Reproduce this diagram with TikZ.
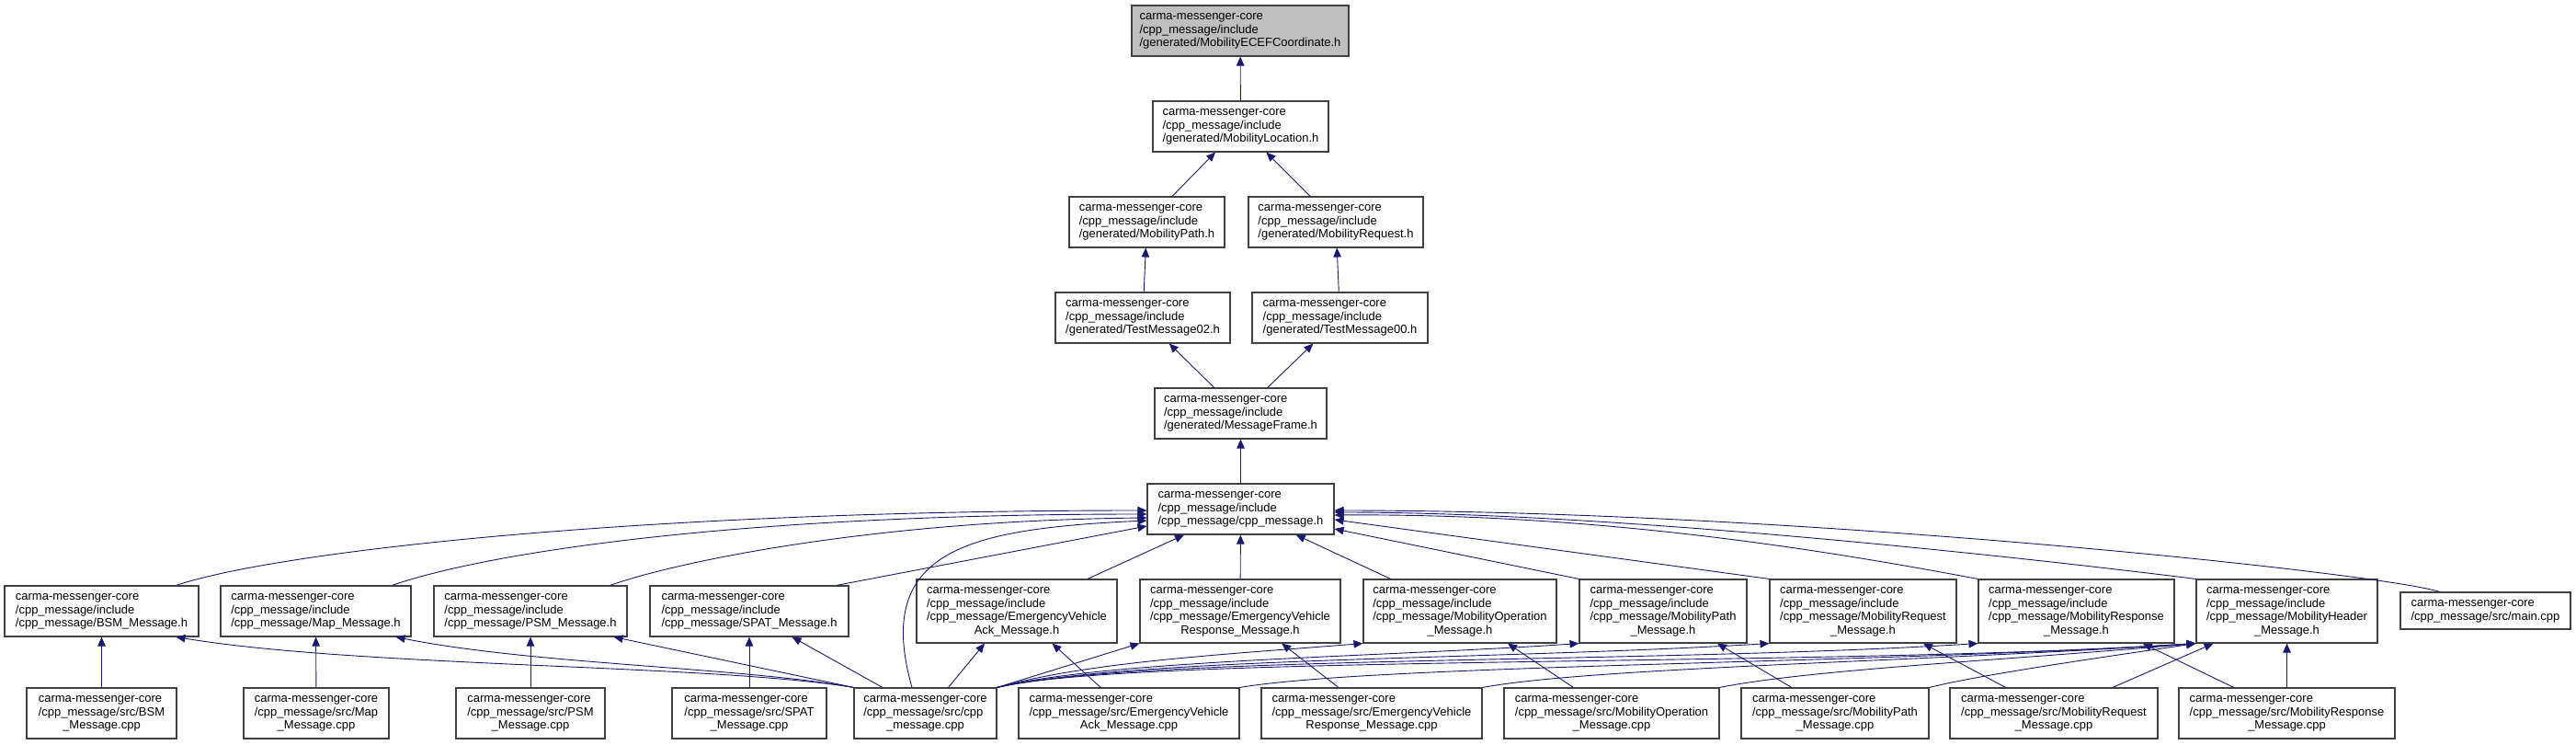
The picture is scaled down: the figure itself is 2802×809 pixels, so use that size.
\documentclass[tikz,border=0pt]{standalone}
\usepackage{fontspec}
\setmainfont{Liberation Sans}
\usepackage{tikz}
\usetikzlibrary{arrows.meta}
\definecolor{edgeblue}{RGB}{25,25,112}
\definecolor{boxline}{RGB}{64,64,64}
\newcommand{\flbl}[2]{\begin{tabular}{@{}l@{}}#1\\\multicolumn{1}{@{}c@{}}{#2}\end{tabular}}

\begin{document}
\begin{tikzpicture}[
    x=1pt, y=-1pt,
    >={Triangle[length=10pt,width=8.5pt]},
    file/.style={draw=boxline, fill=white, line width=1.1pt, inner sep=2pt,
                 font=\fontsize{13}{14.5}\selectfont, minimum height=55pt},
    tall/.style={file, minimum height=69pt},
    focus/.style={file, fill=black!25},
    dep/.style={->, draw=edgeblue, line width=0.9pt},
  ]
    \useasboundingbox (0,0) rectangle (2802,809);
    % chain above cpp_message.h
    \node[focus, minimum width=236pt] (ecef) at (1349,33.5) {\flbl{carma-messenger-core\\/cpp\_message/include}{/generated/MobilityECEFCoordinate.h}};
    \node[file, minimum width=191pt] (loc) at (1349.5,137.5) {\flbl{carma-messenger-core\\/cpp\_message/include}{/generated/MobilityLocation.h}};
    \node[file, minimum width=169pt] (mpath) at (1247.5,241.5) {\flbl{carma-messenger-core\\/cpp\_message/include}{/generated/MobilityPath.h}};
    \node[file, minimum width=190pt] (mreq) at (1453,241.5) {\flbl{carma-messenger-core\\/cpp\_message/include}{/generated/MobilityRequest.h}};
    \node[file, minimum width=190pt] (tm02) at (1243,345.5) {\flbl{carma-messenger-core\\/cpp\_message/include}{/generated/TestMessage02.h}};
    \node[file, minimum width=191pt] (tm00) at (1457.5,345.5) {\flbl{carma-messenger-core\\/cpp\_message/include}{/generated/TestMessage00.h}};
    \node[file, minimum width=187pt] (mframe) at (1349.5,449.5) {\flbl{carma-messenger-core\\/cpp\_message/include}{/generated/MessageFrame.h}};
    \node[file, minimum width=203pt] (cpph) at (1349.5,553.5) {\flbl{carma-messenger-core\\/cpp\_message/include}{/cpp\_message/cpp\_message.h}};
    % headers
    \node[file, minimum width=211pt] (bsmh) at (110.5,664.5) {\flbl{carma-messenger-core\\/cpp\_message/include}{/cpp\_message/BSM\_Message.h}};
    \node[file, minimum width=207pt] (maph) at (343.5,664.5) {\flbl{carma-messenger-core\\/cpp\_message/include}{/cpp\_message/Map\_Message.h}};
    \node[file, minimum width=210pt] (psmh) at (577,664.5) {\flbl{carma-messenger-core\\/cpp\_message/include}{/cpp\_message/PSM\_Message.h}};
    \node[file, minimum width=216pt] (spath) at (815,664.5) {\flbl{carma-messenger-core\\/cpp\_message/include}{/cpp\_message/SPAT\_Message.h}};
    \node[tall, minimum width=218pt] (evackh) at (1106,664.5) {\flbl{carma-messenger-core\\/cpp\_message/include\\/cpp\_message/EmergencyVehicle}{Ack\_Message.h}};
    \node[tall, minimum width=218pt] (evresh) at (1349,664.5) {\flbl{carma-messenger-core\\/cpp\_message/include\\/cpp\_message/EmergencyVehicle}{Response\_Message.h}};
    \node[tall, minimum width=210pt] (mopeh) at (1588,664.5) {\flbl{carma-messenger-core\\/cpp\_message/include\\/cpp\_message/MobilityOperation}{\_Message.h}};
    \node[tall, minimum width=182pt] (mpathh) at (1809,664.5) {\flbl{carma-messenger-core\\/cpp\_message/include\\/cpp\_message/MobilityPath}{\_Message.h}};
    \node[tall, minimum width=203pt] (mreqh) at (2026.5,664.5) {\flbl{carma-messenger-core\\/cpp\_message/include\\/cpp\_message/MobilityRequest}{\_Message.h}};
    \node[tall, minimum width=213pt] (mresh) at (2258.5,664.5) {\flbl{carma-messenger-core\\/cpp\_message/include\\/cpp\_message/MobilityResponse}{\_Message.h}};
    \node[tall, minimum width=197pt] (mhdrh) at (2487.5,664.5) {\flbl{carma-messenger-core\\/cpp\_message/include\\/cpp\_message/MobilityHeader}{\_Message.h}};
    \node[file, minimum width=185pt, minimum height=40pt] (mainc) at (2703.5,664) {\flbl{carma-messenger-core}{/cpp\_message/src/main.cpp}};
    % sources
    \node[file, minimum width=163pt] (bsmc) at (110.5,775.5) {\flbl{carma-messenger-core\\/cpp\_message/src/BSM}{\_Message.cpp}};
    \node[file, minimum width=158pt] (mapc) at (344,775.5) {\flbl{carma-messenger-core\\/cpp\_message/src/Map}{\_Message.cpp}};
    \node[file, minimum width=162pt] (psmc) at (577,775.5) {\flbl{carma-messenger-core\\/cpp\_message/src/PSM}{\_Message.cpp}};
    \node[file, minimum width=168pt] (spatc) at (815,775.5) {\flbl{carma-messenger-core\\/cpp\_message/src/SPAT}{\_Message.cpp}};
    \node[file, minimum width=155pt] (cppc) at (1006.5,775.5) {\flbl{carma-messenger-core\\/cpp\_message/src/cpp}{\_message.cpp}};
    \node[file, minimum width=240pt] (evackc) at (1228,775.5) {\flbl{carma-messenger-core\\/cpp\_message/src/EmergencyVehicle}{Ack\_Message.cpp}};
    \node[file, minimum width=240pt] (evresc) at (1492,775.5) {\flbl{carma-messenger-core\\/cpp\_message/src/EmergencyVehicle}{Response\_Message.cpp}};
    \node[file, minimum width=234pt] (mopec) at (1753,775.5) {\flbl{carma-messenger-core\\/cpp\_message/src/MobilityOperation}{\_Message.cpp}};
    \node[file, minimum width=204pt] (mpathc) at (1996,775.5) {\flbl{carma-messenger-core\\/cpp\_message/src/MobilityPath}{\_Message.cpp}};
    \node[file, minimum width=226pt] (mreqc) at (2234,775.5) {\flbl{carma-messenger-core\\/cpp\_message/src/MobilityRequest}{\_Message.cpp}};
    \node[file, minimum width=235pt] (mresc) at (2487.5,775.5) {\flbl{carma-messenger-core\\/cpp\_message/src/MobilityResponse}{\_Message.cpp}};

    \draw[dep] (loc) -- (ecef);
    \draw[dep] (mpath) -- (loc);
    \draw[dep] (mreq) -- (loc);
    \draw[dep] (tm02) -- (mpath);
    \draw[dep] (tm00) -- (mreq);
    \draw[dep] (mframe) -- (tm02);
    \draw[dep] (mframe) -- (tm00);
    \draw[dep] (cpph) -- (mframe);

    \draw[dep] ([xshift=-25pt]bsmh.north east) .. controls +(110,-37) and +(-550,0) .. ([yshift=-1.5pt]cpph.west);
    \draw[dep] ([xshift=-21pt]maph.north east) .. controls +(100,-35) and +(-450,0) .. ([yshift=-5.5pt]cpph.west);
    \draw[dep] ([xshift=-19pt]psmh.north east) .. controls +(70,-25) and +(-300,3) .. ([yshift=-9.5pt]cpph.west);
    \draw[dep] ([xshift=-14pt]spath.north east) -- ([yshift=-18.5pt]cpph.west);
    \draw[dep] ([xshift=-14.5pt]cppc.north) .. controls +(-42,-148) and +(-198,9) .. ([yshift=-12.5pt]cpph.west);
    \draw[dep] (evackh) -- (cpph);
    \draw[dep] (evresh) -- (cpph);
    \draw[dep] (mopeh) -- (cpph);
    \draw[dep] (mpathh.north west) -- ([yshift=-21.5pt]cpph.east);
    \draw[dep] (mreqh.north west) -- ([yshift=-11.5pt]cpph.east);
    \draw[dep] (mresh.north west) .. controls +(-150,-28) and +(300,-2) .. ([yshift=-6.5pt]cpph.east);
    \draw[dep] (mhdrh.north west) .. controls +(-200,-25) and +(300,0) .. ([yshift=-3.5pt]cpph.east);
    \draw[dep] ([xshift=-50pt]mainc.north) .. controls +(-60,-20) and +(500,0) .. ([yshift=-1.5pt]cpph.east);

    \draw[dep] (bsmc) -- (bsmh);
    \draw[dep] (mapc) -- (maph);
    \draw[dep] (psmc) -- (psmh);
    \draw[dep] (spatc) -- (spath);
    \draw[dep] (cppc.north west) .. controls +(-150,-25) and +(200,33) .. ([xshift=-25pt]bsmh.south east);
    \draw[dep] (cppc.north west) .. controls +(-120,-22) and +(150,30) .. ([xshift=-17pt]maph.south east);
    \draw[dep] (cppc.north west) -- ([xshift=-15pt]psmh.south east);
    \draw[dep] ([xshift=-46.5pt]cppc.north) -- ([xshift=-62pt]spath.south east);
    \draw[dep] ([xshift=25pt]cppc.north) -- ([xshift=-35pt]evackh.south);
    \draw[dep] (cppc.north east) -- (evresh.south west);
    \draw[dep] (cppc.north east) .. controls +(100,-28) and +(-150,12) .. (mopeh.south west);
    \draw[dep] (cppc.north east) .. controls +(120,-30) and +(-220,15) .. (mpathh.south west);
    \draw[dep] (cppc.north east) .. controls +(150,-33) and +(-300,18) .. (mreqh.south west);
    \draw[dep] (cppc.north east) .. controls +(150,-35) and +(-350,22) .. (mresh.south west);
    \draw[dep] (cppc.north east) .. controls +(150,-36) and +(-400,26) .. (mhdrh.south west);
    \draw[dep] (evackc) -- (evackh);
    \draw[dep] (evackc.north east) .. controls +(150,-25) and +(-350,22) .. (mhdrh.south west);
    \draw[dep] (evresc) -- (evresh);
    \draw[dep] (evresc.north east) .. controls +(120,-22) and +(-300,20) .. (mhdrh.south west);
    \draw[dep] (mopec) -- (mopeh);
    \draw[dep] (mopec.north east) .. controls +(100,-20) and +(-200,18) .. (mhdrh.south west);
    \draw[dep] (mpathc) -- (mpathh);
    \draw[dep] (mpathc.north east) .. controls +(60,-15) and +(-80,12) .. (mhdrh.south west);
    \draw[dep] (mreqc) -- (mreqh);
    \draw[dep] (mreqc) -- (mhdrh);
    \draw[dep] (mresc) -- (mresh);
    \draw[dep] (mresc) -- (mhdrh);
  \end{tikzpicture}
\end{document}
